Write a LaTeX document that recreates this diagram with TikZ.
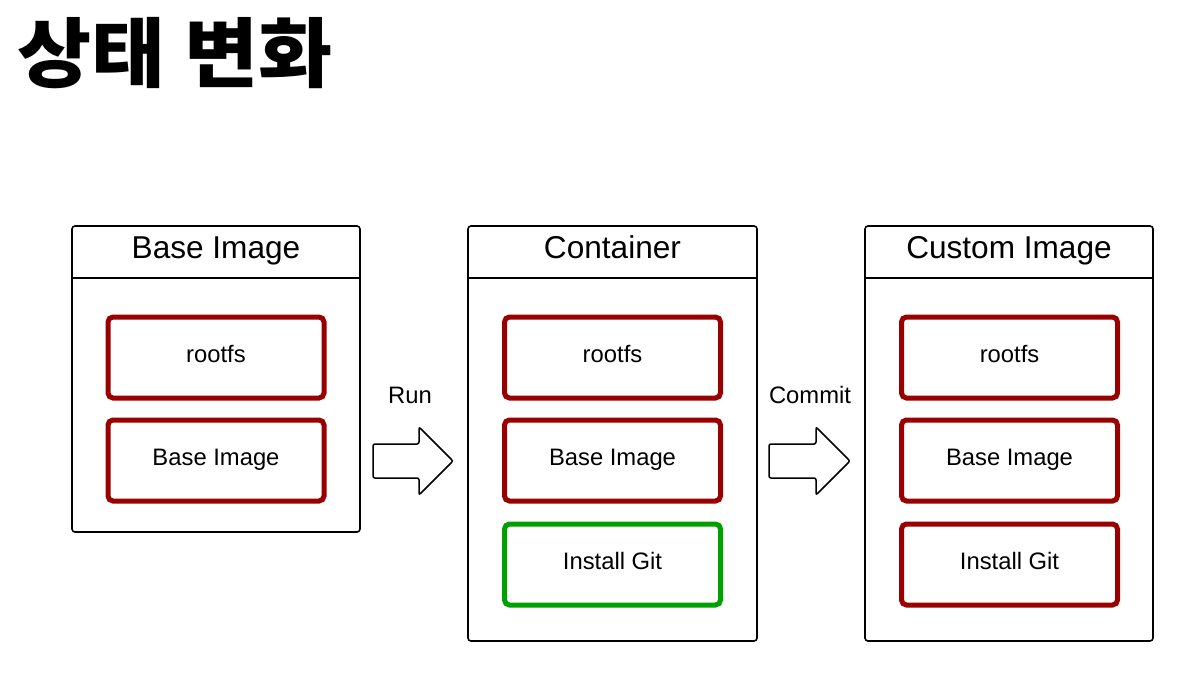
\documentclass[tikz,border=0pt]{standalone}
\usepackage{fontspec}
\setmainfont{Liberation Sans}
\newfontfamily\cjk{Noto Sans CJK KR}
\definecolor{layred}{HTML}{990000}
\definecolor{laygreen}{HTML}{00A000}
\begin{document}
\begin{tikzpicture}[x=1pt,y=-1pt,
  outer/.style={draw=black, line width=1.6pt, rounded corners=3pt, inner sep=0pt},
  layer/.style={draw=layred, line width=5pt, rounded corners=5pt, minimum width=216pt, minimum height=81pt, inner sep=0pt, font=\fontsize{23.8}{27}\selectfont, text height=15pt, text depth=5pt},
  newlayer/.style={layer, draw=laygreen},
  head/.style={anchor=base, font=\fontsize{31.6}{36}\selectfont, inner sep=0pt},
  verb/.style={anchor=base, font=\fontsize{23.8}{27}\selectfont, inner sep=0pt},
  bigarrow/.style={draw=black, line width=1.5pt, rounded corners=2pt, fill=white}]
\useasboundingbox (0,0) rectangle (1191,675);
% title
\node[anchor=base west, inner sep=0pt, font=\cjk\bfseries\fontsize{76}{80}\selectfont] (title) at (17,81) {\scalebox{1.06}[1]{상태\hspace{18pt}변화}};
% outer boxes
\node[outer, minimum width=288pt, minimum height=306pt] (b1) at (216,379) {};
\node[outer, minimum width=289pt, minimum height=415pt] (b2) at (612.5,433.5) {};
\node[outer, minimum width=288pt, minimum height=415pt] (b3) at (1009,433.5) {};
\draw[line width=1.6pt] (b1.west |- 0,278) -- (b1.east |- 0,278);
\draw[line width=1.6pt] (b2.west |- 0,278) -- (b2.east |- 0,278);
\draw[line width=1.6pt] (b3.west |- 0,278) -- (b3.east |- 0,278);
\node[head] (h1) at (216,258) {Base Image};
\node[head] (h2) at (612.5,258) {Container};
\node[head] (h3) at (1009,258) {Custom Image};
% layers
\node[layer] (r1) at (216,357.5) {rootfs};
\node[layer] (i1) at (216,460.5) {Base Image};
\node[layer] (r2) at (612.5,357.5) {rootfs};
\node[layer] (i2) at (612.5,460.5) {Base Image};
\node[newlayer] (g2) at (612.5,564.5) {Install Git};
\node[layer] (r3) at (1009.5,357.5) {rootfs};
\node[layer] (i3) at (1009.5,460.5) {Base Image};
\node[layer] (g3) at (1009.5,564.5) {Install Git};
% arrows
\draw[bigarrow] (373,444) -- (419,444) -- (419,427) -- (453,461) -- (419,495) -- (419,478) -- (373,478) -- cycle;
\draw[bigarrow] (769,444) -- (816,444) -- (816,427) -- (850,461) -- (816,495) -- (816,478) -- (769,478) -- cycle;
\node[verb] (run) at (410,403) {Run};
\node[verb] (commit) at (810,403) {Commit};
\end{tikzpicture}
\end{document}
